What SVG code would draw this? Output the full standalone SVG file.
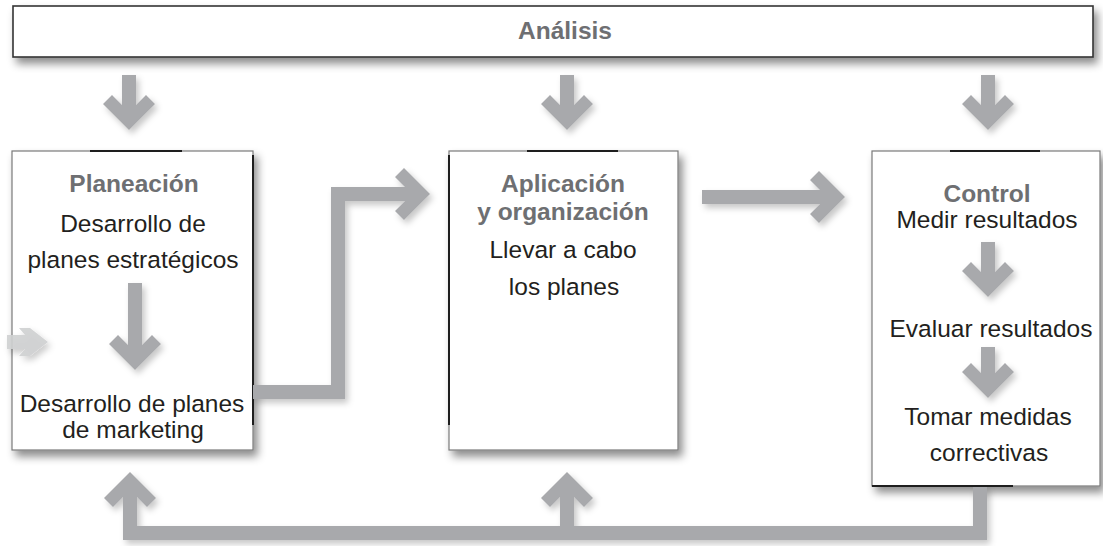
<svg xmlns="http://www.w3.org/2000/svg" xmlns:xlink="http://www.w3.org/1999/xlink" width="1103" height="546" viewBox="0 0 1103 546">
<defs>
<filter id="boxShadow" x="-10%" y="-10%" width="130%" height="140%">
<feDropShadow dx="4" dy="6" stdDeviation="4" flood-color="#000" flood-opacity="0.45"/>
</filter>
<filter id="arrowShadow" x="-10%" y="-10%" width="130%" height="130%">
<feDropShadow dx="3" dy="4" stdDeviation="3" flood-color="#000" flood-opacity="0.22"/>
</filter>
<path id="hd" d="M0,0 L-26,-26 L-17,-35 L-7,-25 L7,-25 L17,-35 L26,-26 Z"/>
<style>
.box{fill:#fff;stroke:#7a7a7a;stroke-width:1.2}
.top{fill:#fff;stroke:#333;stroke-width:1.6}
.dark{stroke:#1e1e1e;stroke-width:2;fill:none}
.title{font-family:"Liberation Sans",Arial,sans-serif;font-weight:bold;font-size:24.5px;fill:#6e6f72;text-anchor:middle}
.txt{font-family:"Liberation Sans",Arial,sans-serif;font-size:24.5px;fill:#231f20;text-anchor:middle}
.sh{fill:none;stroke:#a8a9ac;stroke-width:14;stroke-linejoin:miter;stroke-linecap:butt}
.ah{fill:#a8a9ac}
</style>
</defs>
<rect width="1103" height="546" fill="#fff"/>

<g id="analisis">
<rect class="top" x="13" y="6" width="1080" height="51" filter="url(#boxShadow)"/>
<text class="title" x="565" y="39">Análisis</text>
</g>

<g id="planeacion">
<rect class="box" x="12" y="151" width="241" height="299" filter="url(#boxShadow)"/>
<line class="dark" x1="90" y1="151" x2="182" y2="151"/>
<line class="dark" x1="253" y1="155" x2="253" y2="425"/>
<text class="title" x="134" y="192">Planeación</text>
<text class="txt" x="133" y="232">Desarrollo de</text>
<text class="txt" x="133" y="268">planes estratégicos</text>
<text class="txt" x="132" y="412">Desarrollo de planes</text>
<text class="txt" x="133" y="438">de marketing</text>
</g>

<g id="aplicacion">
<rect class="box" x="449" y="151" width="229" height="299" filter="url(#boxShadow)"/>
<line class="dark" x1="527" y1="151" x2="618" y2="151"/>
<line class="dark" x1="449" y1="155" x2="449" y2="425"/>
<text class="title" x="563" y="192">Aplicación</text>
<text class="title" x="563" y="220">y organización</text>
<text class="txt" x="563" y="258">Llevar a cabo</text>
<text class="txt" x="564" y="295">los planes</text>
</g>

<g id="control">
<rect class="box" x="872" y="151" width="228" height="335" filter="url(#boxShadow)"/>
<line class="dark" x1="950" y1="151" x2="1040" y2="151"/>
<line class="dark" x1="872" y1="486" x2="1013" y2="486" stroke-width="1.5"/>
<text class="title" x="987" y="202">Control</text>
<text class="txt" x="987" y="228">Medir resultados</text>
<text class="txt" x="991" y="337">Evaluar resultados</text>
<text class="txt" x="988" y="425">Tomar medidas</text>
<text class="txt" x="989" y="461">correctivas</text>
</g>

<g id="connectors" filter="url(#arrowShadow)">
<line class="sh" x1="129" y1="75" x2="129" y2="108"/>
<use href="#hd" class="ah" transform="translate(129,130)"/>
<line class="sh" x1="567" y1="75" x2="567" y2="108"/>
<use href="#hd" class="ah" transform="translate(567,130)"/>
<line class="sh" x1="988" y1="75" x2="988" y2="108"/>
<use href="#hd" class="ah" transform="translate(988,130)"/>
<line class="sh" x1="135" y1="283" x2="135" y2="348"/>
<use href="#hd" class="ah" transform="translate(135,370)"/>
<path class="sh" d="M253,392 L338,392 L338,194 L408,194"/>
<use href="#hd" class="ah" transform="translate(430,194) rotate(-90)"/>
<line class="sh" x1="702" y1="197" x2="823" y2="197"/>
<use href="#hd" class="ah" transform="translate(845,197) rotate(-90)"/>
<line class="sh" x1="988" y1="242" x2="988" y2="275"/>
<use href="#hd" class="ah" transform="translate(988,297)"/>
<line class="sh" x1="988" y1="347" x2="988" y2="376"/>
<use href="#hd" class="ah" transform="translate(988,398)"/>
<path class="sh" d="M980,487 L980,533 L130,533 L130,494"/>
<line class="sh" x1="567" y1="533" x2="567" y2="494"/>
<use href="#hd" class="ah" transform="translate(130,472) rotate(180)"/>
<use href="#hd" class="ah" transform="translate(567,472) rotate(180)"/>
<path d="M7,335 L25,335 L19,328 L30,328 L48,342 L30,356 L19,356 L25,349 L7,349 Z" fill="#cfd0d2" opacity="0.9"/>
</g>
</svg>
